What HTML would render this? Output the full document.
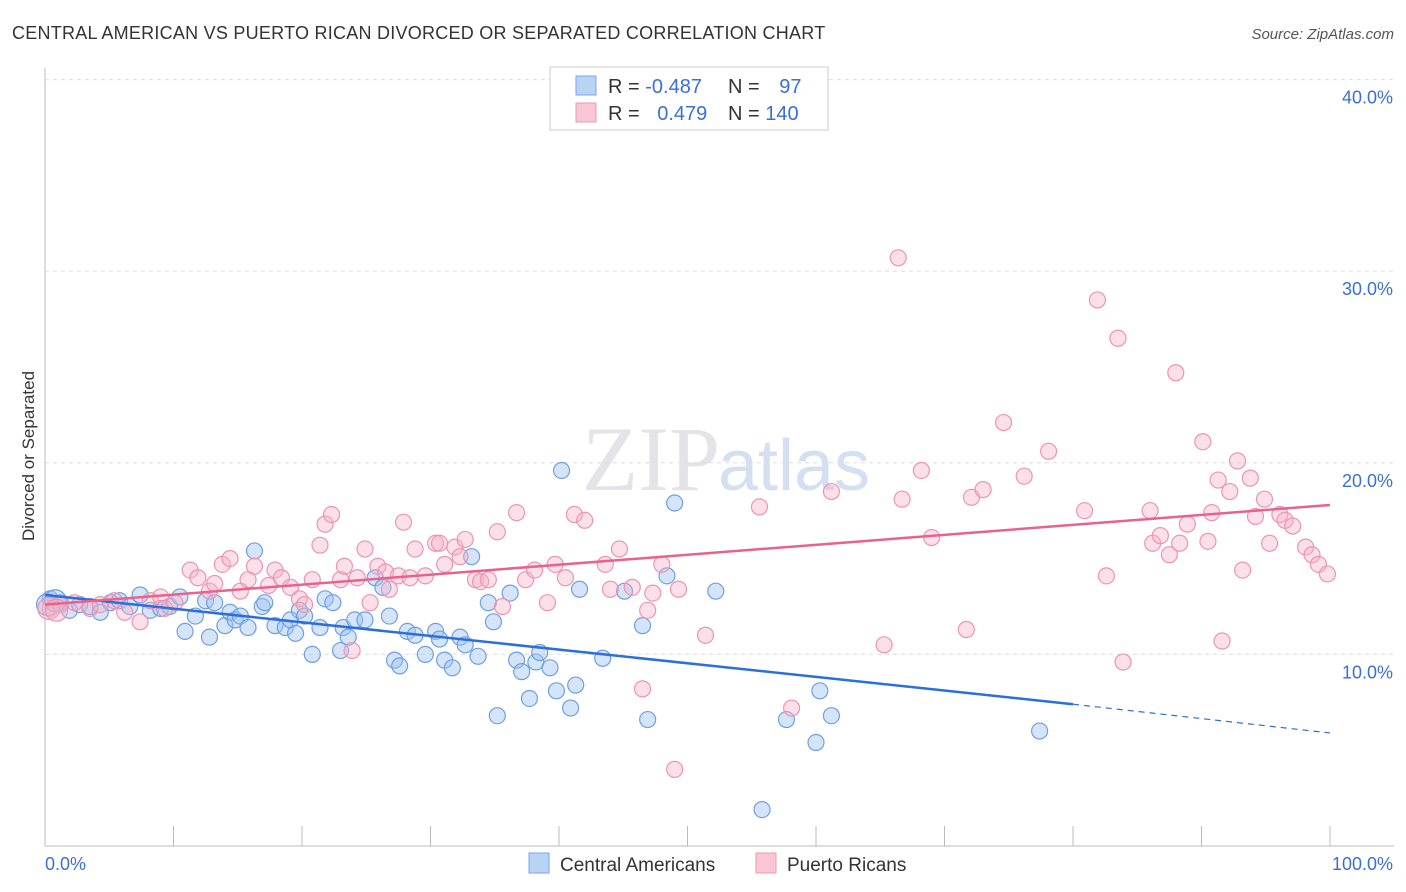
<!DOCTYPE html>
<html><head><meta charset="utf-8"><style>
body{margin:0;background:#fff;font-family:"Liberation Sans",sans-serif;}
#wrap{position:relative;width:1406px;height:892px;overflow:hidden;}
</style></head><body>
<div id="wrap">
<svg id="svg" width="1406" height="892" xmlns="http://www.w3.org/2000/svg">
<text x="12" y="39" font-size="18" fill="#333" letter-spacing="0.25">CENTRAL AMERICAN VS PUERTO RICAN DIVORCED OR SEPARATED CORRELATION CHART</text>
<text x="1394" y="39" font-size="15" fill="#555" font-style="italic" text-anchor="end">Source: ZipAtlas.com</text>
<text x="34" y="456" font-size="17" fill="#333" text-anchor="middle" transform="rotate(-90 34 456)">Divorced or Separated</text>
<text x="720" y="490" font-size="92" fill="#e4e4e8" font-family="Liberation Serif" text-anchor="end">ZIP</text>
<text x="718" y="490" font-size="72" fill="#d4e0f2">atlas</text>
<g id="grid"></g><g id="pts"></g><g id="trend"></g>
<g>
<rect x="550" y="67" width="278" height="63" fill="#fff" stroke="#ccc"/>
<rect x="576" y="76" width="20" height="19" fill="#b9d3f5" stroke="#7aa6e6"/>
<rect x="576" y="103" width="20" height="19" fill="#f8c6d5" stroke="#ee99b2"/>
<text x="608" y="93" font-size="20" fill="#333">R = <tspan fill="#3a6fd8">-0.487</tspan></text>
<text x="728" y="93" font-size="20" fill="#333">N = <tspan fill="#3a6fd8" dx="14">97</tspan></text>
<text x="608" y="120" font-size="20" fill="#333">R = <tspan fill="#3a6fd8" dx="12">0.479</tspan></text>
<text x="728" y="120" font-size="20" fill="#333">N = <tspan fill="#3a6fd8">140</tspan></text>
</g>
<g>
<rect x="529" y="853" width="20" height="20" fill="#b9d3f5" stroke="#7aa6e6"/>
<text x="560" y="871" font-size="19" fill="#333">Central Americans</text>
<rect x="756" y="853" width="20" height="20" fill="#f8c6d5" stroke="#ee99b2"/>
<text x="787" y="871" font-size="19" fill="#333">Puerto Ricans</text>
</g>
</svg></div>
<script>
const blueX=[0.4,1.2,1.9,2.7,3.5,4.3,5.1,5.8,6.6,7.4,8.2,9.0,9.7,10.5,10.9,11.7,12.5,12.8,13.2,14.0,14.4,14.8,15.2,15.8,16.3,16.9,17.1,17.9,18.7,19.1,19.5,19.8,20.2,20.8,21.4,21.8,22.4,23.0,23.2,23.6,24.1,24.9,25.7,26.3,26.8,27.2,27.6,28.2,28.8,29.6,30.4,30.7,31.1,31.7,32.3,32.7,33.2,33.7,34.5,34.9,35.2,36.2,36.7,37.1,37.7,38.2,38.5,39.3,39.8,40.2,40.9,41.3,41.6,43.4,45.1,46.5,46.9,48.4,49.0,52.2,57.7,60.0,60.3,61.2,55.8,77.4,0.2,0.8];
const blueY=[12.9,12.7,12.3,12.6,12.5,12.2,12.7,12.8,12.5,13.1,12.3,12.4,12.5,13.0,11.2,12.0,12.8,10.9,12.7,11.5,12.2,11.8,12.0,11.4,15.4,12.5,12.7,11.5,11.4,11.8,11.1,12.3,12.0,10.0,11.4,12.9,12.7,10.2,11.4,10.9,11.8,11.8,14.0,13.5,12.0,9.7,9.4,11.2,11.0,10.0,11.2,10.8,9.7,9.3,10.9,10.5,15.1,9.9,12.7,11.7,6.8,13.2,9.7,9.1,7.7,9.6,10.1,9.3,8.1,19.6,7.2,8.4,13.4,9.8,13.3,11.5,6.6,14.1,17.9,13.3,6.6,5.4,8.1,6.8,1.9,6.0,12.6,12.8];
const pinkX=[0.4,1.2,2.3,3.5,4.3,5.4,6.2,7.4,8.2,9.0,9.3,10.1,11.3,11.9,12.8,13.2,13.8,14.4,15.2,15.8,16.3,17.4,17.9,18.4,19.1,19.8,20.2,20.8,21.4,21.8,22.3,23.0,23.3,23.9,24.3,24.9,25.3,25.9,26.5,26.8,27.5,27.9,28.4,28.8,29.6,30.4,30.7,31.1,31.9,32.3,32.7,33.5,33.9,34.5,35.2,35.6,36.7,37.4,38.1,39.1,39.7,40.5,41.2,42.0,43.6,44.0,44.7,45.7,46.5,46.9,47.3,48.0,49.0,49.3,51.4,55.6,58.1,61.2,65.3,66.4,66.7,68.2,69.0,71.7,72.1,73.0,74.6,76.2,78.1,80.9,81.9,82.6,83.5,83.9,86.0,86.2,86.8,87.5,88.0,88.3,88.9,90.1,90.5,90.8,91.3,91.6,92.2,92.8,93.2,93.8,94.2,94.9,95.3,96.1,96.5,97.1,98.1,98.6,99.1,99.8,0.3,0.9];
const pinkY=[12.4,12.6,12.7,12.4,12.6,12.8,12.2,11.7,12.8,13.0,12.4,12.7,14.4,14.0,13.3,13.7,14.7,15.0,13.3,13.9,14.6,13.6,14.4,14.0,13.5,12.9,12.6,13.9,15.7,16.8,17.3,13.9,14.6,10.2,14.0,15.5,12.7,14.6,14.3,13.4,14.1,16.9,14.0,15.5,14.1,15.8,15.8,14.7,15.6,15.1,16.0,13.9,13.8,13.9,16.4,12.5,17.4,13.9,14.4,12.7,14.7,14.0,17.3,17.0,14.7,13.4,15.5,13.5,8.2,12.3,13.2,14.7,4.0,13.4,11.0,17.7,7.2,18.5,10.5,30.7,18.1,19.6,16.1,11.3,18.2,18.6,22.1,19.3,20.6,17.5,28.5,14.1,26.5,9.6,17.5,15.8,16.2,15.2,24.7,15.8,16.8,21.1,15.9,17.4,19.1,10.7,18.5,20.1,14.4,19.2,17.2,18.1,15.8,17.3,17.0,16.7,15.6,15.2,14.7,14.2,12.4,12.3];
const yTicks=[10,20,30,40];
const yTickLabels=["10.0%","20.0%","30.0%","40.0%"];
const blueTrend=[13.1,7.4,5.9]; // at x=0, 80, 100
const pinkTrend=[12.6,17.8];    // at x=0, 100
const NS="http://www.w3.org/2000/svg";
const sx=v=>45+v*12.85, sy=v=>846-v*19.16;
function mk(t,a,p){const e=document.createElementNS(NS,t);for(const k in a)e.setAttribute(k,a[k]);p.appendChild(e);return e;}
const grid=document.getElementById('grid');
mk('line',{x1:45,y1:68,x2:45,y2:846,stroke:'#bbb'},grid);
mk('line',{x1:45,y1:846,x2:1394,y2:846,stroke:'#bbb'},grid);
yTicks.forEach((t,i)=>{
 const l=mk('line',{x1:45,y1:sy(t),x2:1394,y2:sy(t),stroke:'#ddd','stroke-dasharray':'4,4'},grid);
 
 
 const tx=mk('text',{x:1393,y:sy(t)+24,'font-size':18,fill:'#3a6fd8','text-anchor':'end'},grid);
 tx.textContent=yTickLabels[i];
 
 
});
for(let i=1;i<=10;i++){
 const l=mk('line',{x1:sx(i*10),y1:826,x2:sx(i*10),y2:846,stroke:'#bbb'},grid);
 
 
}
const x0=mk('text',{x:45,y:870,'font-size':18,fill:'#3a6fd8'},grid);x0.textContent='0.0%';


const x1=mk('text',{x:1393,y:870,'font-size':18,fill:'#3a6fd8','text-anchor':'end'},grid);x1.textContent='100.0%';


const pts=document.getElementById('pts');
blueX.forEach((x,i)=>{
 const c=mk('circle',{cx:sx(x),cy:sy(blueY[i]),r:i>=86?11:8,fill:'rgba(160,196,242,0.45)',stroke:'#6f9fe3','stroke-width':1.2},pts);
 
 
});
pinkX.forEach((x,i)=>{
 const c=mk('circle',{cx:sx(x),cy:sy(pinkY[i]),r:i>=120?11:8,fill:'rgba(246,178,200,0.4)',stroke:'#ee94b0','stroke-width':1.2},pts);
 
 
});
const tr=document.getElementById('trend');
const b1=mk('line',{x1:sx(0),y1:sy(blueTrend[0]),x2:sx(80),y2:sy(blueTrend[1]),stroke:'#2a6fdb','stroke-width':2.5},tr);


const b2=mk('line',{x1:sx(80),y1:sy(blueTrend[1]),x2:sx(100),y2:sy(blueTrend[2]),stroke:'#2a6fdb','stroke-width':1.2,'stroke-dasharray':'6,5'},tr);


const p1=mk('line',{x1:sx(0),y1:sy(pinkTrend[0]),x2:sx(100),y2:sy(pinkTrend[1]),stroke:'#e8628e','stroke-width':2.5},tr);


</script>
</body></html>
